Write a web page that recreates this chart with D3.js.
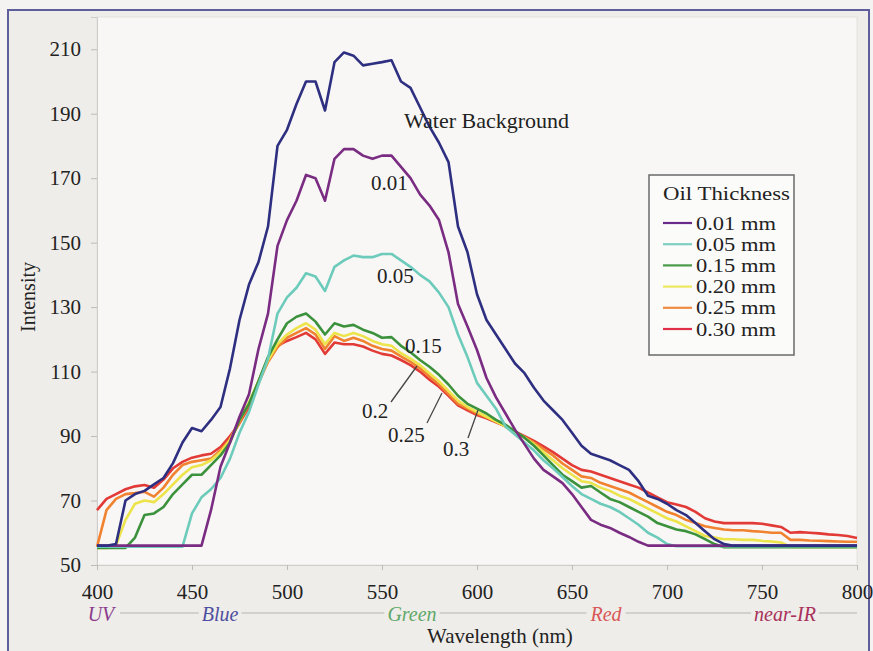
<!DOCTYPE html>
<html><head><meta charset="utf-8">
<script src="https://cdn.jsdelivr.net/npm/d3@7"></script>
<style>
html,body{margin:0;padding:0;background:#f4f3f1;}
svg{display:block;font-family:"Liberation Serif","Times New Roman",serif;}
</style></head><body>
<svg id="chart" width="873" height="651"></svg>
<script>
// ---------------- DATA ----------------
const wavelengths = d3.range(400, 801, 5); // sampling grid, nm
const yTicks = [50, 70, 90, 110, 130, 150, 170, 190, 210];
const xTicks = [400, 450, 500, 550, 600, 650, 700, 750, 800];

const waterBackground = [56,56,56.5,70,72,73,75,77,81.6,88,
  92.5,91.5,95,99,111,126,137,144,155,180,
  185,193,200,200,191,206,209,208,205,205.5,
  206,206.6,200,198,192,186,181,175,155,147,
  134,126,121.5,117,112.5,109.5,105,101,98,95,
  91,87,84.5,83.5,82.5,81,79.5,76,71.5,70.5,
  69,67,65.5,63,60.5,58,56.5,56,56,56,
  56,56,56,56,56,56,56,56,56,56,56];
const oil001 = [56,56,56,56,56,56,56,56,56,56,
  56,56,67,80.5,88,96,103,117,128,149,
  157,163,171,170,163,176,179,179,177,176,
  177,177,173.5,170,165,161.5,157,147,131,124,
  116.7,108,102,97,92,87.5,83,79.5,77.5,75.4,
  72,68,64,62.5,61.5,60,58.7,57.2,56,56,
  56,56,56,56,56,56,56,56,56,56,
  56,56,56,56,56,56,56,56,56,56,56];
const oil005 = [55.7,55.7,55.7,55.7,55.7,55.7,55.7,55.7,55.7,55.7,
  66,71,73.5,77,83,91,97.5,106,114,128,
  133,136,140.5,139.5,135,142.5,144.5,146,145.5,145.5,
  146.5,146.5,144.5,142.5,140,138,134.5,130,121.5,114.5,
  106.5,102.5,98.5,93,90.5,88,85.5,82.5,80,77.3,
  74.5,72,70.5,69,68,66.5,64.5,62.5,60,58.5,
  56.5,55.8,55.8,55.8,55.8,55.8,55.8,55.8,55.8,55.8,
  55.8,55.8,55.8,55.8,55.8,55.8,55.8,55.8,55.8,55.8,55.8];
const oil015 = [55.3,55.3,55.3,55.3,58.5,65.5,66,68,72,75,
  78,78,81,84,88,95,100,107,114.5,120,
  125,127,128,125.5,121.5,125,124,124.5,123,122,
  120.5,120.7,118,116,113.6,111.5,109,106,102.5,100,
  98.5,97,95,93.5,91.5,89.5,87,84,81,78,
  76,74,74.5,72.5,70.5,69.5,68,66.5,65,63,
  62,61,60.5,59.5,58,56.5,55.5,55.5,55.5,55.5,
  55.5,55.5,55.5,55.5,55.5,55.5,55.5,55.5,55.5,55.5,55.5];
const oil020 = [55.3,55.3,56,64,69,70,69.5,72,75,78,
  80.3,81,82.5,85,88.8,95,100.5,107,113.5,118.5,
  121.5,123.5,125,123,118.5,122,121,122,121,119.5,
  118.5,118,115.7,114,112,109.5,107,104,101,99,
  97.5,96,94.5,93,91,89.5,87.5,85,82.5,80,
  78,76,75.5,74,73,71.5,70.5,69,67.5,66,
  64.5,63.5,62,60.5,59,58.5,58,58,57.8,57.8,
  57.5,57.3,57,55.6,55.6,55.6,55.6,55.6,55.6,55.6,55.6];
const oil025 = [55.6,67,70.5,72,72.3,72.7,71.2,74,78,81,
  82,82.5,83,85.6,89,94,100,106.5,113,117.5,
  120.5,122,123.5,121.5,117,121,119.5,120.5,119.5,118,
  117,116.5,114.7,113,111,108.5,106,103,100,98.5,
  97,95.8,94.5,93,91.2,89.7,88,86,84,81.5,
  79.5,77.5,77,75.5,74.5,73.5,72.5,71,69.5,68,
  66.5,65.5,64,63,62,61.5,61,60.8,60.8,60.5,
  60.3,60,60,57.8,57.8,57.6,57.5,57.4,57.3,57.2,57.2];
const oil030 = [67,70.5,72,73.5,74.4,74.8,74,76.5,80,82,
  83.3,84,84.5,86.6,90,94,99,107,114,118,
  119.5,120.7,122,120,115.5,119,118.5,118.5,117.8,116.5,
  115.5,115,113.6,112,110,107.5,105.3,102.5,99.5,98,
  96.5,95.5,94.3,93,91.4,90,88.5,86.8,85,83,
  81,79.5,79,78,77,76,75,74,72.5,71,
  69.5,68.8,68,66.5,64.5,63.5,63,63,63,63,
  62.8,62.3,61.8,60,60.2,60,59.8,59.5,59.3,59,58.4];

const legendTitle = "Oil Thickness";
const legendLabels = ["0.01 mm","0.05 mm","0.15 mm","0.20 mm","0.25 mm","0.30 mm"];
const bandLabels = ["UV","Blue","Green","Red","near-IR"];

// ---------------- STYLE / LAYOUT ----------------
const seriesDefs = [
  {name:"0.30 mm", values: oil030, color:"#e23a36"},
  {name:"0.25 mm", values: oil025, color:"#f08230"},
  {name:"0.20 mm", values: oil020, color:"#ece44a"},
  {name:"0.15 mm", values: oil015, color:"#3c923c"},
  {name:"0.05 mm", values: oil005, color:"#6ccbbb"},
  {name:"0.01 mm", values: oil001, color:"#7a2c82"},
  {name:"Water Background", values: waterBackground, color:"#2e2f80"}
];
const legendColors = ["#6a2a8a","#7fd0c4","#4a9a4a","#eee860","#f08a40","#e03048"];
const bandColors = ["#8a3a8c","#4e4ea0","#5fa868","#d85858","#a8305a"];
const bandX = [101, 220, 412, 606, 785];

const svg = d3.select("#chart");
const plot = {left:97, right:857, top:17, bottom:565};

// outer frame
svg.append("rect").attr("x",8).attr("y",10).attr("width",861).attr("height",660)
  .attr("fill","#efede9").attr("stroke","#5e5e9c").attr("stroke-width",2);
// plot area
svg.append("rect").attr("x",plot.left).attr("y",plot.top)
  .attr("width",plot.right-plot.left).attr("height",plot.bottom-plot.top)
  .attr("fill","#f8f7f5").attr("stroke","#e4e2de").attr("stroke-width",1);

const x = d3.scaleLinear().domain([400,800]).range([plot.left, plot.right]);
const y = d3.scaleLinear().domain([50,220]).range([plot.bottom, plot.top]);

// axes
const yAxis = d3.axisLeft(y).tickValues(yTicks).tickSize(6).tickPadding(10);
const gy = svg.append("g").attr("transform",`translate(${plot.left},0)`).call(yAxis);
gy.select(".domain").attr("stroke","#cfcdca");
gy.selectAll(".tick line").attr("stroke","#bdbbb8");
gy.selectAll(".tick text").attr("font-size",21).attr("fill","#222")
  .attr("font-family","Liberation Serif, Times New Roman, serif");

const xAxis = d3.axisBottom(x).tickValues(xTicks).tickSize(5).tickPadding(14);
const gx = svg.append("g").attr("transform",`translate(0,${plot.bottom})`).call(xAxis);
gx.select(".domain").attr("stroke","#cfcdca");
gx.selectAll(".tick line").attr("stroke","#bdbbb8");
gx.selectAll(".tick text").attr("font-size",21).attr("fill","#222")
  .attr("font-family","Liberation Serif, Times New Roman, serif");

// lines
const line = d3.line().x((d,i)=>x(wavelengths[i])).y(d=>y(d));
svg.append("g").selectAll("path").data(seriesDefs).join("path")
  .attr("d", d=>line(d.values))
  .attr("fill","none").attr("stroke", d=>d.color)
  .attr("stroke-width",2.6).attr("stroke-linejoin","round");

// annotations
const ann = svg.append("g").attr("font-size",21).attr("fill","#222");
ann.append("text").attr("x",404).attr("y",128).attr("font-size",22).text("Water Background");
ann.append("text").attr("x",371).attr("y",190).text("0.01");
ann.append("text").attr("x",377).attr("y",283).text("0.05");
ann.append("text").attr("x",405).attr("y",353).text("0.15");
ann.append("text").attr("x",362).attr("y",418).text("0.2");
ann.append("text").attr("x",388).attr("y",442).text("0.25");
ann.append("text").attr("x",443).attr("y",456).text("0.3");
const leaders = [[391,402,417,366],[427,423,442,393],[468,438,478,410]];
svg.append("g").selectAll("line").data(leaders).join("line")
  .attr("x1",d=>d[0]).attr("y1",d=>d[1]).attr("x2",d=>d[2]).attr("y2",d=>d[3])
  .attr("stroke","#444").attr("stroke-width",1.3);

// legend
const lg = svg.append("g");
lg.append("rect").attr("x",649).attr("y",175).attr("width",145).attr("height",180)
  .attr("fill","#fbfbfa").attr("stroke","#6a6a6a").attr("stroke-width",1.5);
lg.append("text").attr("x",663).attr("y",200).attr("font-size",19.5).attr("fill","#222")
  .attr("textLength",127).attr("lengthAdjust","spacingAndGlyphs").text(legendTitle);
legendLabels.forEach((lab,i)=>{
  const cy = 223 + i*21.2;
  lg.append("line").attr("x1",663).attr("x2",692).attr("y1",cy).attr("y2",cy)
    .attr("stroke",legendColors[i]).attr("stroke-width",2.2);
  lg.append("text").attr("x",696).attr("y",cy+6.5).attr("font-size",18.5).attr("fill","#222")
    .attr("textLength",80).attr("lengthAdjust","spacingAndGlyphs").text(lab);
});

// spectral band labels
const bandY = 613;
const bandG = svg.append("g");
const bandText = bandG.selectAll("text").data(bandLabels).join("text")
  .attr("x",(d,i)=>bandX[i]).attr("y",bandY+8).attr("text-anchor","middle")
  .attr("font-size",20).attr("font-style","italic")
  .attr("fill",(d,i)=>bandColors[i]).text(d=>d);
const boxes = [];
bandText.each(function(){ boxes.push(this.getBBox()); });
const segs = [];
for (let i=0;i<boxes.length-1;i++) segs.push([boxes[i].x+boxes[i].width+3, boxes[i+1].x-3]);
segs.push([boxes[boxes.length-1].x+boxes[boxes.length-1].width+3, plot.right]);
bandG.selectAll("line").data(segs).join("line")
  .attr("x1",d=>d[0]).attr("x2",d=>d[1]).attr("y1",bandY).attr("y2",bandY)
  .attr("stroke","#b8b6b3").attr("stroke-width",1.2);

// axis titles
svg.append("text").attr("x",427).attr("y",643).attr("font-size",21).attr("fill","#222")
  .text("Wavelength (nm)");
svg.append("text").attr("transform","translate(35,297) rotate(-90)")
  .attr("text-anchor","middle").attr("font-size",20).attr("fill","#222").text("Intensity");
</script>
</body></html>
